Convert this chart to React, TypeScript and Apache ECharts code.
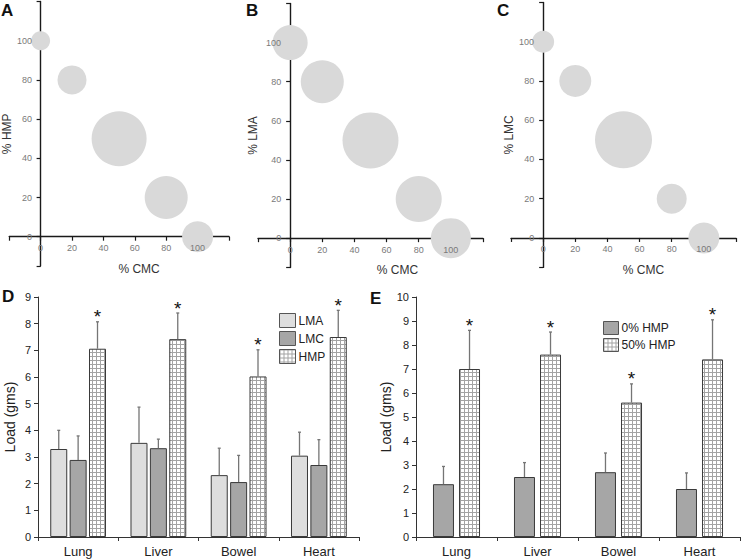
import React, { useEffect, useRef } from 'react';
import * as echarts from 'echarts';

// ---- Panels A–C: bubble plots (x = % CMC) ----
const cmcPct = [0, 20, 50, 80, 100];
const hmpPct = [100, 80, 50, 20, 0];
const lmaPct = [100, 80, 50, 20, 0];
const lmcPct = [100, 80, 50, 20, 0];
const bubbleSizeA = [19, 29, 55, 43, 31];
const bubbleSizeB = [35, 43, 56, 46, 40];
const bubbleSizeC = [22, 32, 57, 30, 31];
const bubbleTickLabels = [0, 20, 40, 60, 80, 100];
const bubbleXRange = [-20, 120];
const bubbleYRange = [-15, 120];

// ---- Panel D ----
const organs = ['Lung', 'Liver', 'Bowel', 'Heart'];
const dLMA = [3.3, 3.53, 2.32, 3.05];
const dLMAerr = [4.0, 4.87, 3.33, 3.93];
const dLMC = [2.89, 3.33, 2.06, 2.7];
const dLMCerr = [3.79, 3.67, 3.06, 3.65];
const dHMP = [7.06, 7.42, 6.02, 7.5];
const dHMPerr = [8.07, 8.4, 7.02, 8.5];

// ---- Panel E ----
const e0HMP = [2.2, 2.5, 2.7, 2.0];
const e0HMPerr = [2.94, 3.1, 3.5, 2.67];
const e50HMP = [7.0, 7.6, 5.6, 7.4];
const e50HMPerr = [8.61, 8.54, 6.38, 9.05];

const FONT = '"Liberation Sans", Arial, sans-serif';

const gridSvg =
  'data:image/svg+xml;utf8,' +
  encodeURIComponent(
    "<svg xmlns='http://www.w3.org/2000/svg' width='4' height='4'><rect width='4' height='4' fill='#ffffff'/><path d='M0 0.5H4M0.5 0V4' stroke='#a3a3a3' stroke-width='1' fill='none'/></svg>"
  );
const hatch: any = { image: gridSvg, repeat: 'repeat', imageWidth: 4, imageHeight: 4 };

type G = { left: number; top: number; width: number; height: number };

function bubbleAxes(gridIndex: number, g: G, yName: string, yGap: number, xNamePad: number) {
  const axisColor = '#1a1a1a';
  const [x0, x1] = bubbleXRange;
  const [y0, y1] = bubbleYRange;
  // distance of the zero lines from the grid's bottom / left edges
  const xOff = (g.height * (0 - y0)) / (y1 - y0);
  const yOff = (g.width * (0 - x0)) / (x1 - x0);
  const xAxes = [
    {
      type: 'value', gridIndex, position: 'bottom', min: x0, max: x1, interval: 20,
      axisLine: { show: true, onZero: true, lineStyle: { color: axisColor, width: 1.4 } },
      axisTick: { show: true, length: 4, lineStyle: { color: axisColor, width: 1.2 } },
      axisLabel: { show: false }, splitLine: { show: false }, z: 0,
    },
    {
      type: 'value', gridIndex, position: 'bottom', offset: -xOff, min: x0, max: x1, interval: 20,
      axisLine: { show: false, onZero: false },
      axisTick: { show: false },
      axisLabel: { show: true, customValues: bubbleTickLabels, color: '#7a7a7a', fontSize: 9, margin: 7, fontFamily: FONT },
      splitLine: { show: false }, z: 3,
      name: '% CMC', nameLocation: 'middle', nameGap: 26,
      nameTextStyle: { fontSize: 12, color: '#333', fontFamily: FONT, padding: [0, 0, 0, xNamePad] },
    },
  ];
  const yAxes = [
    {
      type: 'value', gridIndex, position: 'left', min: y0, max: y1,
      axisLine: { show: true, onZero: true, lineStyle: { color: axisColor, width: 1.4 } },
      axisTick: { show: true, length: 4, customValues: [-15, 0, 20, 40, 60, 80, 100, 120], lineStyle: { color: axisColor, width: 1.2 } },
      axisLabel: { show: false }, splitLine: { show: false }, z: 0,
    },
    {
      type: 'value', gridIndex, position: 'left', offset: -yOff, min: y0, max: y1,
      axisLine: { show: false, onZero: false },
      axisTick: { show: false },
      axisLabel: { show: true, customValues: bubbleTickLabels, color: '#7a7a7a', fontSize: 9, margin: 9, fontFamily: FONT },
      splitLine: { show: false }, z: 3,
      name: yName, nameLocation: 'middle', nameGap: yGap,
      nameTextStyle: { fontSize: 12, color: '#333', fontFamily: FONT },
    },
  ];
  return { xAxes, yAxes };
}

function bubbleSeries(axisIndex: number, ys: number[], sizes: number[]) {
  return {
    type: 'scatter', xAxisIndex: axisIndex, yAxisIndex: axisIndex, z: 2,
    data: cmcPct.map((x, i) => [x, ys[i], sizes[i]]),
    symbolSize: (d: number[]) => d[2],
    itemStyle: { color: '#d9d9d9', opacity: 1 },
    silent: true,
  };
}

function errorSeries(axisIndex: number, data: any[], barWidth: number, gapRatio: number, nSeries: number) {
  return {
    type: 'custom', xAxisIndex: axisIndex, yAxisIndex: axisIndex, z: 5, silent: true,
    data,
    encode: { x: 0, y: [1, 2] },
    renderItem: (_p: any, api: any) => {
      const cat = api.value(0);
      const idx = api.value(3);
      const step = barWidth * (1 + gapRatio);
      const off = (idx - (nSeries - 1) / 2) * step;
      const p0 = api.coord([cat, api.value(1)]);
      const p1 = api.coord([cat, api.value(2)]);
      const x = p0[0] + off;
      const st = { stroke: '#757575', lineWidth: 1.3 };
      const children: any[] = [
        { type: 'line', shape: { x1: x, y1: p0[1], x2: x, y2: p1[1] }, style: st },
        { type: 'line', shape: { x1: x - 1.5, y1: p1[1], x2: x + 1.5, y2: p1[1] }, style: st },
      ];
      if (api.value(4)) {
        children.push({
          type: 'text', x, y: p1[1] - 5,
          style: { text: '*', fontSize: 19, fill: '#111', align: 'center', verticalAlign: 'middle', fontFamily: FONT },
        });
      }
      return { type: 'group', children };
    },
  };
}

function barAxes(gridIndex: number, max: number) {
  const c = '#333';
  return {
    x: {
      type: 'category', gridIndex, data: organs,
      axisLine: { show: true, lineStyle: { color: c, width: 1 } },
      axisTick: { show: true, length: 4, lineStyle: { color: c } },
      axisLabel: { fontSize: 13, color: '#222', margin: 8, fontFamily: FONT },
    },
    y: {
      type: 'value', gridIndex, min: 0, max, interval: 1,
      axisLine: { show: true, lineStyle: { color: c, width: 1 } },
      axisTick: { show: true, length: 4, lineStyle: { color: c } },
      axisLabel: { fontSize: 11, color: '#222', margin: 7, fontFamily: FONT },
      splitLine: { show: false },
      name: 'Load (gms)', nameLocation: 'middle', nameGap: 21,
      nameTextStyle: { fontSize: 14, color: '#222', fontFamily: FONT },
    },
  };
}

export default function App() {
  const ref = useRef<HTMLDivElement>(null);
  useEffect(() => {
    document.body.style.margin = '0';
    if (!ref.current) return;
    const chart = echarts.init(ref.current, undefined, { renderer: 'svg' });

    const grids: G[] = [
      { left: 7, top: 1.5, width: 222, height: 264.6 },
      { left: 258, top: 3.5, width: 225, height: 264 },
      { left: 511, top: 2.4, width: 225, height: 265 },
      { left: 38, top: 297, width: 321, height: 240 },
      { left: 416, top: 297, width: 324, height: 240 },
    ];

    const A = bubbleAxes(0, grids[0], '% HMP', 24, 40);
    const B = bubbleAxes(1, grids[1], '% LMA', 31, 54);
    const C = bubbleAxes(2, grids[2], '% LMC', 24, 40);
    const D = barAxes(3, 9);
    const E = barAxes(4, 10);

    const dW = 17, dGap = 0.14;
    const eW = 21, eGap = 0.24;

    const dErr: any[] = [];
    organs.forEach((_, i) => {
      dErr.push([i, dLMA[i], dLMAerr[i], 0, 0]);
      dErr.push([i, dLMC[i], dLMCerr[i], 1, 0]);
      dErr.push([i, dHMP[i], dHMPerr[i], 2, 1]);
    });
    const eErr: any[] = [];
    organs.forEach((_, i) => {
      eErr.push([i, e0HMP[i], e0HMPerr[i], 0, 0]);
      eErr.push([i, e50HMP[i], e50HMPerr[i], 1, 1]);
    });

    const border = { borderColor: '#3a3a3a', borderWidth: 1 };
    const letter = (t: string, x: number, y: number) => ({
      type: 'text', left: x, top: y,
      style: { text: t, fontSize: 17, fontWeight: 'bold', fill: '#111', fontFamily: FONT },
    });

    chart.setOption({
      animation: false,
      textStyle: { fontFamily: FONT },
      grid: grids,
      xAxis: [...A.xAxes, ...B.xAxes, ...C.xAxes, D.x, E.x],
      yAxis: [...A.yAxes, ...B.yAxes, ...C.yAxes, D.y, E.y],
      legend: [
        {
          data: ['LMA', 'LMC', 'HMP'], orient: 'vertical', left: 274, top: 308,
          itemWidth: 16, itemHeight: 14, itemGap: 3, icon: 'rect',
          itemStyle: { borderColor: '#555', borderWidth: 1 },
          textStyle: { fontSize: 12, color: '#222', fontFamily: FONT, padding: [0, 0, 0, -2] },
          selectedMode: false,
        },
        {
          data: ['0% HMP', '50% HMP'], orient: 'vertical', left: 598, top: 316,
          itemWidth: 15, itemHeight: 13, itemGap: 3, icon: 'rect',
          itemStyle: { borderColor: '#555', borderWidth: 1 },
          textStyle: { fontSize: 12, color: '#222', fontFamily: FONT, padding: [0, 0, 0, -2] },
          selectedMode: false,
        },
      ],
      graphic: [
        letter('A', 1, 2),
        letter('B', 246, 2),
        letter('C', 497, 2),
        letter('D', 2, 288),
        letter('E', 370, 290),
      ],
      series: [
        bubbleSeries(0, hmpPct, bubbleSizeA),
        bubbleSeries(2, lmaPct, bubbleSizeB),
        bubbleSeries(4, lmcPct, bubbleSizeC),
        {
          name: 'LMA', type: 'bar', xAxisIndex: 6, yAxisIndex: 6, data: dLMA,
          barWidth: dW, barGap: dGap * 100 + '%', itemStyle: { color: '#dedede', ...border },
        },
        {
          name: 'LMC', type: 'bar', xAxisIndex: 6, yAxisIndex: 6, data: dLMC,
          barWidth: dW, barGap: dGap * 100 + '%', itemStyle: { color: '#a6a6a6', ...border },
        },
        {
          name: 'HMP', type: 'bar', xAxisIndex: 6, yAxisIndex: 6, data: dHMP,
          barWidth: dW, barGap: dGap * 100 + '%', itemStyle: { color: hatch, ...border },
        },
        errorSeries(6, dErr, dW, dGap, 3),
        {
          name: '0% HMP', type: 'bar', xAxisIndex: 7, yAxisIndex: 7, data: e0HMP,
          barWidth: eW, barGap: eGap * 100 + '%', itemStyle: { color: '#a6a6a6', ...border },
        },
        {
          name: '50% HMP', type: 'bar', xAxisIndex: 7, yAxisIndex: 7, data: e50HMP,
          barWidth: eW, barGap: eGap * 100 + '%', itemStyle: { color: hatch, ...border },
        },
        errorSeries(7, eErr, eW, eGap, 2),
      ],
    });
    return () => chart.dispose();
  }, []);
  return <div ref={ref} style={{ width: 741, height: 559 }} />;
}
